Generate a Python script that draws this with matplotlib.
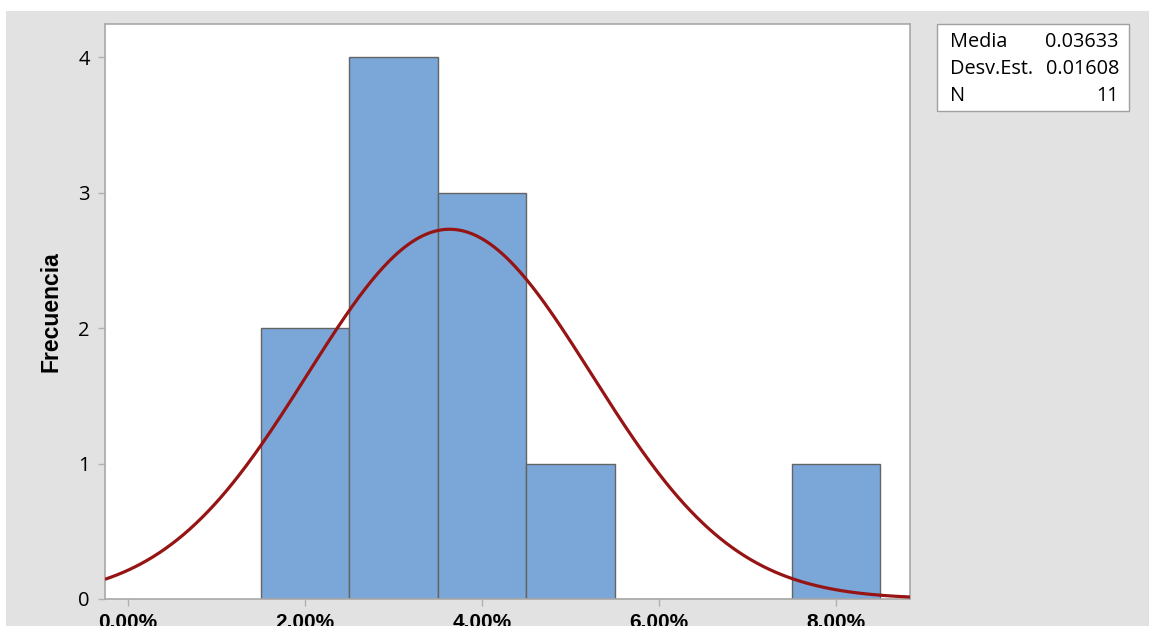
import numpy as np
import matplotlib
matplotlib.use("Agg")
import matplotlib.pyplot as plt
from matplotlib.patches import Rectangle
from matplotlib.ticker import FuncFormatter

# Data
bin_left_edges = [0.015, 0.025, 0.035, 0.045, 0.055, 0.065, 0.075]
bin_counts = [2, 4, 3, 1, 0, 0, 1]
bin_width = 0.01
media = 0.03633
desv_est = 0.01608
n_obs = 11
x_ticks = [0.00, 0.02, 0.04, 0.06, 0.08]
y_ticks = [0, 1, 2, 3, 4]

W, H = 1149, 626
fig = plt.figure(figsize=(W / 100, H / 100), dpi=100)
fig.patch.set_facecolor("white")

# gray background panel
bg = Rectangle((6 / W, 0), 1 - 6 / W, 1 - 11 / H, transform=fig.transFigure,
               facecolor="#e2e2e2", edgecolor="none", zorder=-10)
fig.patches.append(bg)

ax = fig.add_axes([105 / W, 1 - 599 / H, (910 - 105) / W, (599 - 24) / H])
ax.set_facecolor("white")

ax.bar(bin_left_edges, bin_counts, width=bin_width, align="edge",
       color="#7ba7d8", edgecolor="#646464", linewidth=1.0, zorder=2)

xlim = (-0.0026, 0.08836)
xs = np.linspace(xlim[0], xlim[1], 400)
ys = n_obs * bin_width / (desv_est * np.sqrt(2 * np.pi)) * np.exp(-0.5 * ((xs - media) / desv_est) ** 2)
ax.plot(xs, ys, color="#961414", linewidth=2.3, zorder=3, solid_capstyle="butt")

ax.set_xlim(*xlim)
ax.set_ylim(0, 4.244)
ax.set_xticks(x_ticks)
ax.set_yticks(y_ticks)
ax.xaxis.set_major_formatter(FuncFormatter(lambda v, p: f"{v * 100:.2f}%"))

for s in ax.spines.values():
    s.set_color("#a8a8a8")
    s.set_linewidth(1.2)

ax.tick_params(axis="both", direction="out", length=5, width=1, color="#b0b0b0")
ax.tick_params(axis="y", pad=6)
ax.tick_params(axis="x", pad=5)
for lab in ax.get_yticklabels():
    lab.set_fontfamily("Open Sans")
    lab.set_fontsize(14.5)
    lab.set_color("black")
for lab in ax.get_xticklabels():
    lab.set_fontfamily("Liberation Sans")
    lab.set_fontweight("bold")
    lab.set_fontsize(15)
    lab.set_color("black")

ax.set_ylabel("Frecuencia", fontfamily="Liberation Sans", fontweight="bold",
              fontsize=16.5, labelpad=11)

# stats box
bx0, by0, bx1, by1 = 937, 24, 1129, 111
box = Rectangle((bx0 / W, 1 - by1 / H), (bx1 - bx0) / W, (by1 - by0) / H,
                transform=fig.transFigure, facecolor="white",
                edgecolor="#a0a0a0", linewidth=1.0, zorder=5)
fig.patches.append(box)
rows = [("Media", f"{media:.5f}"), ("Desv.Est.", f"{desv_est:.5f}"), ("N", f"{n_obs}")]
for i, (k, v) in enumerate(rows):
    yy = 1 - (42 + i * 27) / H
    fig.text(950 / W, yy, k, fontfamily="Open Sans", fontsize=14.3,
             va="center", ha="left", zorder=6)
    fig.text(1119 / W, yy, v, fontfamily="Open Sans", fontsize=14.3,
             va="center", ha="right", zorder=6)

fig.savefig("out.png", dpi=100)
